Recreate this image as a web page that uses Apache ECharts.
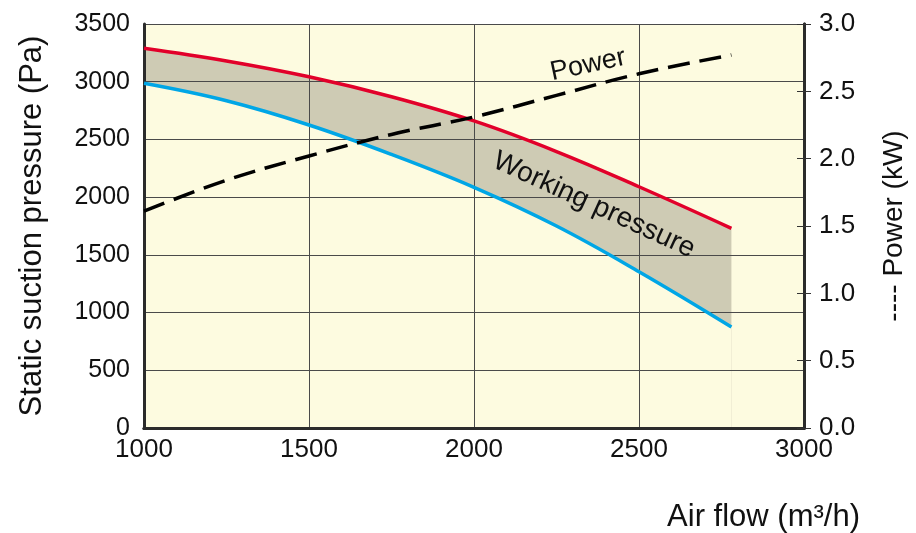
<!DOCTYPE html>
<html>
<head>
<meta charset="utf-8">
<script src="https://cdn.jsdelivr.net/npm/echarts@6/dist/echarts.min.js"></script>
<style>
  html, body { margin: 0; padding: 0; background: #fff; }
  #chart { width: 916px; height: 533px; }
</style>
</head>
<body>
<div id="chart"></div>
<script>
// air flow (m3/h)
var airFlow = [1000, 1250, 1500, 1750, 2000, 2250, 2500, 2780];
// upper pressure curve (Pa)
var pressureMax = [3290, 3180, 3043, 2870, 2660, 2395, 2090, 1730];
// lower pressure curve (Pa)
var pressureMin = [2986, 2835, 2625, 2370, 2085, 1750, 1354, 875];
// power (kW)
var power = [1.61, 1.84, 2.02, 2.18, 2.31, 2.47, 2.63, 2.77];

var font = 'Liberation Sans';
var plotBg = '#fdfbe0';
var frame = { color: '#2b2b2b', width: 3 };

function pairs(xs, ys) {
    var out = [];
    for (var i = 0; i < xs.length; i++) out.push([xs[i], ys[i]]);
    return out;
}

var chart = echarts.init(document.getElementById('chart'));
var option = {
    animation: false,
    grid: {
        left: 144, right: 108, top: 24, bottom: 105,
        show: true,
        backgroundColor: plotBg,
        borderWidth: 0,
        z: 0
    },
    xAxis: [{
        type: 'value',
        min: 1000, max: 3000, interval: 500,
        z: 3,
        axisLine: { show: true, lineStyle: frame },
        axisTick: { show: false },
        splitLine: { show: true, lineStyle: { color: '#4a4a4a', width: 1 } },
        axisLabel: { color: '#111', fontFamily: font, fontSize: 26, margin: 9,
            formatter: function (v) { return String(v); } }
    }, {
        // top edge of the frame
        type: 'value',
        position: 'top',
        min: 1000, max: 3000, interval: 500,
        z: 3,
        axisLine: { show: true, lineStyle: frame },
        axisTick: { show: false },
        axisLabel: { show: false },
        splitLine: { show: false }
    }],
    yAxis: [{
        type: 'value',
        min: 0, max: 3500, interval: 500,
        z: 3,
        axisLine: { show: true, lineStyle: frame },
        axisTick: { show: false },
        splitLine: { show: true, lineStyle: { color: '#4a4a4a', width: 1 } },
        axisLabel: { color: '#111', fontFamily: font, fontSize: 25, margin: 14,
            formatter: function (v) { return String(v); } },
        name: 'Static suction pressure (Pa)',
        nameLocation: 'middle',
        nameRotate: 90,
        nameGap: 96,
        nameTextStyle: { color: '#111', fontFamily: font, fontSize: 31 }
    }, {
        type: 'value',
        position: 'right',
        min: 0, max: 3, interval: 0.5,
        z: 3,
        axisLine: { show: true, lineStyle: frame },
        axisTick: { show: true, length: 7, lineStyle: { color: '#333', width: 1 } },
        splitLine: { show: false },
        axisLabel: {
            color: '#111', fontFamily: font, fontSize: 26, margin: 15,
            formatter: function (v) { return v.toFixed(1); }
        },
        name: '---- Power (kW)',
        nameLocation: 'middle',
        nameRotate: 90,
        nameGap: 76,
        nameTextStyle: { color: '#111', fontFamily: font, fontSize: 28 }
    }, {
        type: 'value',
        position: 'right',
        min: 0, max: 3, interval: 0.5,
        z: 3,
        axisLine: { show: true, lineStyle: frame },
        axisTick: { show: true, inside: true, length: 7, lineStyle: { color: '#333', width: 1 } },
        axisLabel: { show: false },
        splitLine: { show: false }
    }],
    series: [{
        // band fill: gray under the upper curve ...
        name: 'band top',
        type: 'line',
        smooth: 0.4,
        symbol: 'none',
        silent: true,
        lineStyle: { width: 0 },
        areaStyle: { color: '#cecbb4', opacity: 1 },
        data: pairs(airFlow, pressureMax),
        z: 1
    }, {
        // ... then plot background under the lower curve
        name: 'band bottom',
        type: 'line',
        smooth: 0.4,
        symbol: 'none',
        silent: true,
        lineStyle: { width: 0 },
        areaStyle: { color: plotBg, opacity: 1 },
        data: pairs(airFlow, pressureMin),
        z: 1
    }, {
        name: 'Max pressure',
        type: 'line',
        smooth: 0.4,
        symbol: 'none',
        lineStyle: { color: '#e2002a', width: 3.5 },
        data: pairs(airFlow, pressureMax),
        z: 5
    }, {
        name: 'Min pressure',
        type: 'line',
        smooth: 0.4,
        symbol: 'none',
        lineStyle: { color: '#00a6e6', width: 3.5 },
        data: pairs(airFlow, pressureMin),
        z: 5
    }, {
        name: 'Power',
        type: 'line',
        yAxisIndex: 1,
        smooth: 0.4,
        symbol: 'none',
        lineStyle: { color: '#000', width: 3.5, type: [22, 10] },
        data: pairs(airFlow, power),
        z: 6
    }],
    graphic: [{
        type: 'text',
        x: 588, y: 65,
        rotation: 0.21,
        style: {
            text: 'Power', fill: '#111', font: '27px "Liberation Sans"',
            align: 'center', verticalAlign: 'middle'
        },
        z: 10
    }, {
        type: 'text',
        x: 594, y: 205,
        rotation: -0.43,
        style: {
            text: 'Working pressure', fill: '#111', font: '28px "Liberation Sans"',
            align: 'center', verticalAlign: 'middle'
        },
        z: 10
    }, {
        type: 'text',
        x: 860, y: 517,
        style: {
            text: 'Air flow (m³/h)', fill: '#111', font: '31px "Liberation Sans"',
            align: 'right', verticalAlign: 'middle'
        },
        z: 10
    }]
};
chart.setOption(option);
</script>
</body>
</html>
